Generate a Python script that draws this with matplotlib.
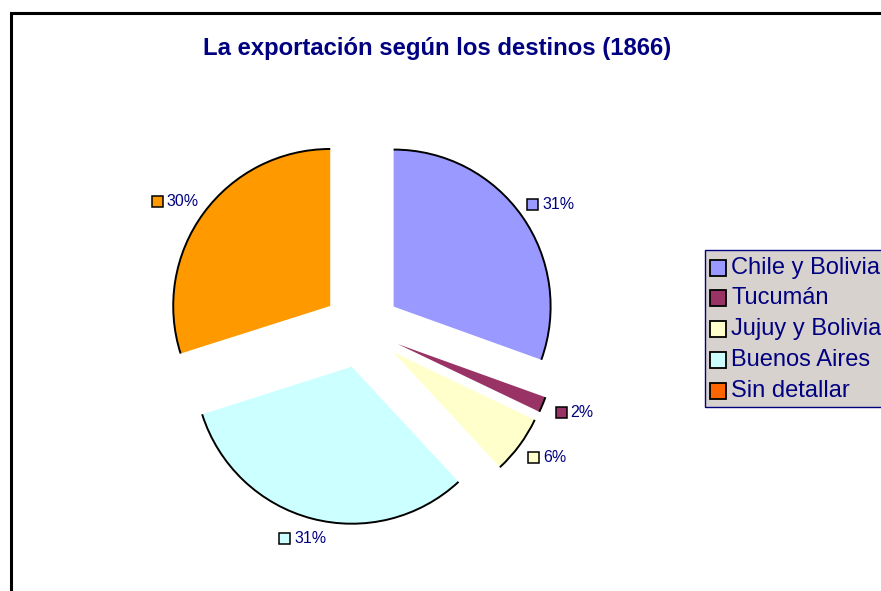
import matplotlib
matplotlib.use("Agg")
import matplotlib.pyplot as plt
from matplotlib.patches import Arc, Rectangle
import numpy as np

plt.rcParams['font.family'] = ['Liberation Sans', 'DejaVu Sans']

categories = ["Chile y Bolivia", "Tucumán", "Jujuy y Bolivia", "Buenos Aires", "Sin detallar"]
values = [30.5, 1.6, 6.0, 32.0, 29.9]
pct_labels = ["31%", "2%", "6%", "31%", "30%"]
slice_colors = ["#9999FF", "#993366", "#FFFFCC", "#CCFFFF", "#FF9900"]
legend_colors = ["#9999FF", "#993366", "#FFFFCC", "#CCFFFF", "#FF6600"]
title = "La exportación según los destinos (1866)"

W, H = 881, 591
fig = plt.figure(figsize=(W / 100, H / 100), dpi=100)
ax = fig.add_axes([0, 0, 1, 1])
navy = "#000080"

# pie
R = 157
center = (361.7, H - 329)
wedges, _ = ax.pie(values, colors=slice_colors, startangle=90, counterclock=False,
                   explode=[39] * len(values), radius=R, center=center, frame=True,
                   wedgeprops=dict(linewidth=0))
ax.set_xlim(0, W)
ax.set_ylim(0, H)
ax.set_aspect('auto')
ax.axis('off')

# frame
ax.plot([11, 11, W + 5], [-5, H - 13, H - 13], color='black', lw=2.2,
        solid_joinstyle='miter')

renderer = fig.canvas.get_renderer()
for w, lab, col in zip(wedges, pct_labels, slice_colors):
    cx, cy = w.center
    ax.add_patch(Arc((cx, cy), 2 * R, 2 * R, theta1=w.theta1, theta2=w.theta2,
                     color='black', lw=1.4))
    tm = np.deg2rad(0.5 * (w.theta1 + w.theta2))
    lx = center[0] + 1.47 * R * np.cos(tm)
    ly = center[1] + 1.38 * R * np.sin(tm)
    t = ax.text(0, ly, lab, fontsize=11.5, color=navy, ha='left', va='center')
    tw = t.get_window_extent(renderer=renderer).width
    total = 11 + 4 + tw
    x0 = lx - total / 2
    t.set_x(x0 + 15)
    ax.add_patch(Rectangle((x0, ly - 5.5), 11, 11, facecolor=col, edgecolor='black', lw=1.1))

# title
ax.text(437, H - 49, title, fontsize=17.2, fontweight='bold', color=navy,
        ha='center', va='center')

# legend
ax.add_patch(Rectangle((705, H - 407), 200, 157, facecolor="#D8D2CE", edgecolor=navy, lw=1.0))
ys = [268, 298, 329, 360, 391]
for name, col, y in zip(categories, legend_colors, ys):
    ax.add_patch(Rectangle((710, H - y - 8), 16, 16, facecolor=col, edgecolor='black', lw=1.3))
    ax.text(731, H - y, name, fontsize=17, color=navy, ha='left', va='center')

fig.savefig("out.png", dpi=100)
